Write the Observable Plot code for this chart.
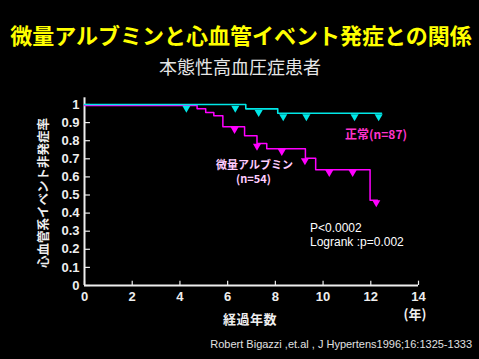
<!DOCTYPE html>
<html><head><meta charset="utf-8">
<script src="https://cdn.jsdelivr.net/npm/d3@7"></script>
<script src="https://cdn.jsdelivr.net/npm/@observablehq/plot@0.6"></script>
<style>
body{margin:0;background:#000;}
#wrap{position:relative;width:479px;height:359px;overflow:hidden;background:#000;font-family:"Noto Sans CJK JP","Liberation Sans",sans-serif;}
.t{position:absolute;white-space:nowrap;line-height:1;width:max-content;}
#plot{position:absolute;left:0;top:0;}
</style></head><body>
<div id="wrap">
  <div id="plot"></div>
  <div class="t" id="title" style="left:241px;top:23px;transform:translateX(-50%);font-size:22px;font-weight:bold;color:#ffff00;">微量アルブミンと心血管イベント発症との関係</div>
  <div class="t" id="sub" style="left:240px;top:57px;transform:translateX(-50%);font-size:18px;color:#e6e6e6;">本態性高血圧症患者</div>
  <div class="t" id="ylab" style="left:43px;top:193px;transform:translate(-50%,-50%) rotate(-90deg);font-size:12.5px;font-weight:bold;color:#eeeeee;">心血管系イベント非発症率</div>
  <div class="t" id="xlab" style="left:250px;top:318px;transform:translate(-50%,-50%);font-size:13px;letter-spacing:0.5px;font-weight:bold;color:#eeeeee;">経過年数</div>
  <div class="t" id="unit" style="left:415px;top:313px;transform:translate(-50%,-50%);font-size:13px;font-weight:bold;color:#eeeeee;">(年)</div>
  <div class="t" id="cite" style="right:7px;top:344px;transform:translateY(-50%);font-family:'Liberation Sans',sans-serif;font-size:11px;color:#e0e0e0;">Robert Bigazzi ,et.al , J Hypertens1996;16:1325-1333</div>
  <div class="t" id="lab1" style="left:345px;top:133.5px;transform:translateY(-50%);font-size:12px;font-weight:bold;color:#ff33cc;">正常(n=87)</div>
  <div class="t" id="lab2" style="left:254.5px;top:163.5px;transform:translate(-50%,-50%);font-size:11px;font-weight:bold;color:#ffccff;">微量アルブミン</div>
  <div class="t" id="lab3" style="left:253.5px;top:178px;transform:translate(-50%,-50%);font-size:11px;font-weight:bold;color:#ffccff;">(n=54)</div>
  <div class="t" id="p1" style="left:310px;top:227.5px;transform:translateY(-50%);font-family:'Liberation Sans',sans-serif;font-size:12px;color:#ffffff;">P&lt;0.0002</div>
  <div class="t" id="p2" style="left:310px;top:242px;transform:translateY(-50%);font-family:'Liberation Sans',sans-serif;font-size:12px;color:#ffffff;">Logrank :p=0.002</div>
</div>
<script>
// Normal albumin group (n=87)
const normalTime = [0, 6.76, 8.10, 12.45];
const normalSurv = [1, 0.976, 0.952, 0.952];
const normalCensorTime = [4.27, 6.32, 7.30, 8.33, 9.30, 11.32, 12.33];
const normalCensorSurv = [1, 1, 0.976, 0.952, 0.952, 0.952, 0.952];

// Microalbuminuria group (n=54)
const microTime = [0, 4.72, 5.08, 5.42, 5.80, 6.71, 7.23, 7.64, 9.26, 9.69, 11.97, 12.28];
const microSurv = [1, 0.982, 0.961, 0.943, 0.882, 0.833, 0.790, 0.761, 0.709, 0.645, 0.477, 0.477];
const microCensorTime = [6.29, 7.23, 8.27, 9.24, 10.26, 11.24, 12.23];
const microCensorSurv = [0.882, 0.790, 0.761, 0.709, 0.645, 0.645, 0.477];

const xTicks = [0, 2, 4, 6, 8, 10, 12, 14];
const yTicks = [0, 0.1, 0.2, 0.3, 0.4, 0.5, 0.6, 0.7, 0.8, 0.9, 1];

const normal = normalTime.map((t, i) => ({t, s: normalSurv[i]}));
const micro = microTime.map((t, i) => ({t, s: microSurv[i]}));
const normalC = normalCensorTime.map((t, i) => ({t, s: normalCensorSurv[i]}));
const microC = microCensorTime.map((t, i) => ({t, s: microCensorSurv[i]}));

const axisColor = "#eeeeee";
const cyan = "#00e8e8";
const magenta = "#ff00ff";

const chart = Plot.plot({
  width: 479,
  height: 359,
  marginLeft: 84,
  marginRight: 61,
  marginTop: 104,
  marginBottom: 74,
  style: {background: "transparent", color: axisColor, fontFamily: "'Liberation Sans', Arial, sans-serif", fontSize: "13px", fontWeight: "bold", overflow: "visible"},
  x: {domain: [0, 14]},
  y: {domain: [0, 1]},
  marks: [
    Plot.axisX({ticks: xTicks, tickSize: 0, tickPadding: 6, label: null, fill: axisColor}),
    Plot.axisY({ticks: yTicks, tickSize: 0, tickPadding: 5, label: null, fill: axisColor,
      tickFormat: d => (d === 0 || d === 1) ? String(d) : d.toFixed(1)}),
    Plot.ruleX(xTicks, {x: d => d, y1: 0, y2: 0.024, stroke: axisColor, strokeWidth: 1.2}),
    Plot.ruleY(yTicks, {y: d => d, x1: 0, x2: 0.25, stroke: axisColor, strokeWidth: 1.2}),
    Plot.ruleY([0], {x1: 0, x2: 14, stroke: axisColor, strokeWidth: 2}),
    Plot.ruleX([0], {y1: 0, y2: 1.037, stroke: axisColor, strokeWidth: 2}),
    Plot.line(micro, {x: "t", y: "s", curve: "step-after", stroke: magenta, strokeWidth: 1.5, dy: 1}),
    Plot.dot(microC, {x: "t", y: "s", symbol: "triangle", rotate: 180, r: 3, fill: magenta, stroke: "none", dy: 3.5}),
    Plot.line(normal, {x: "t", y: "s", curve: "step-after", stroke: cyan, strokeWidth: 1.6}),
    Plot.dot(normalC, {x: "t", y: "s", symbol: "triangle", rotate: 180, r: 3, fill: cyan, stroke: "none", dy: 3.5})
  ]
});
document.getElementById("plot").appendChild(chart);
</script>
</body></html>
